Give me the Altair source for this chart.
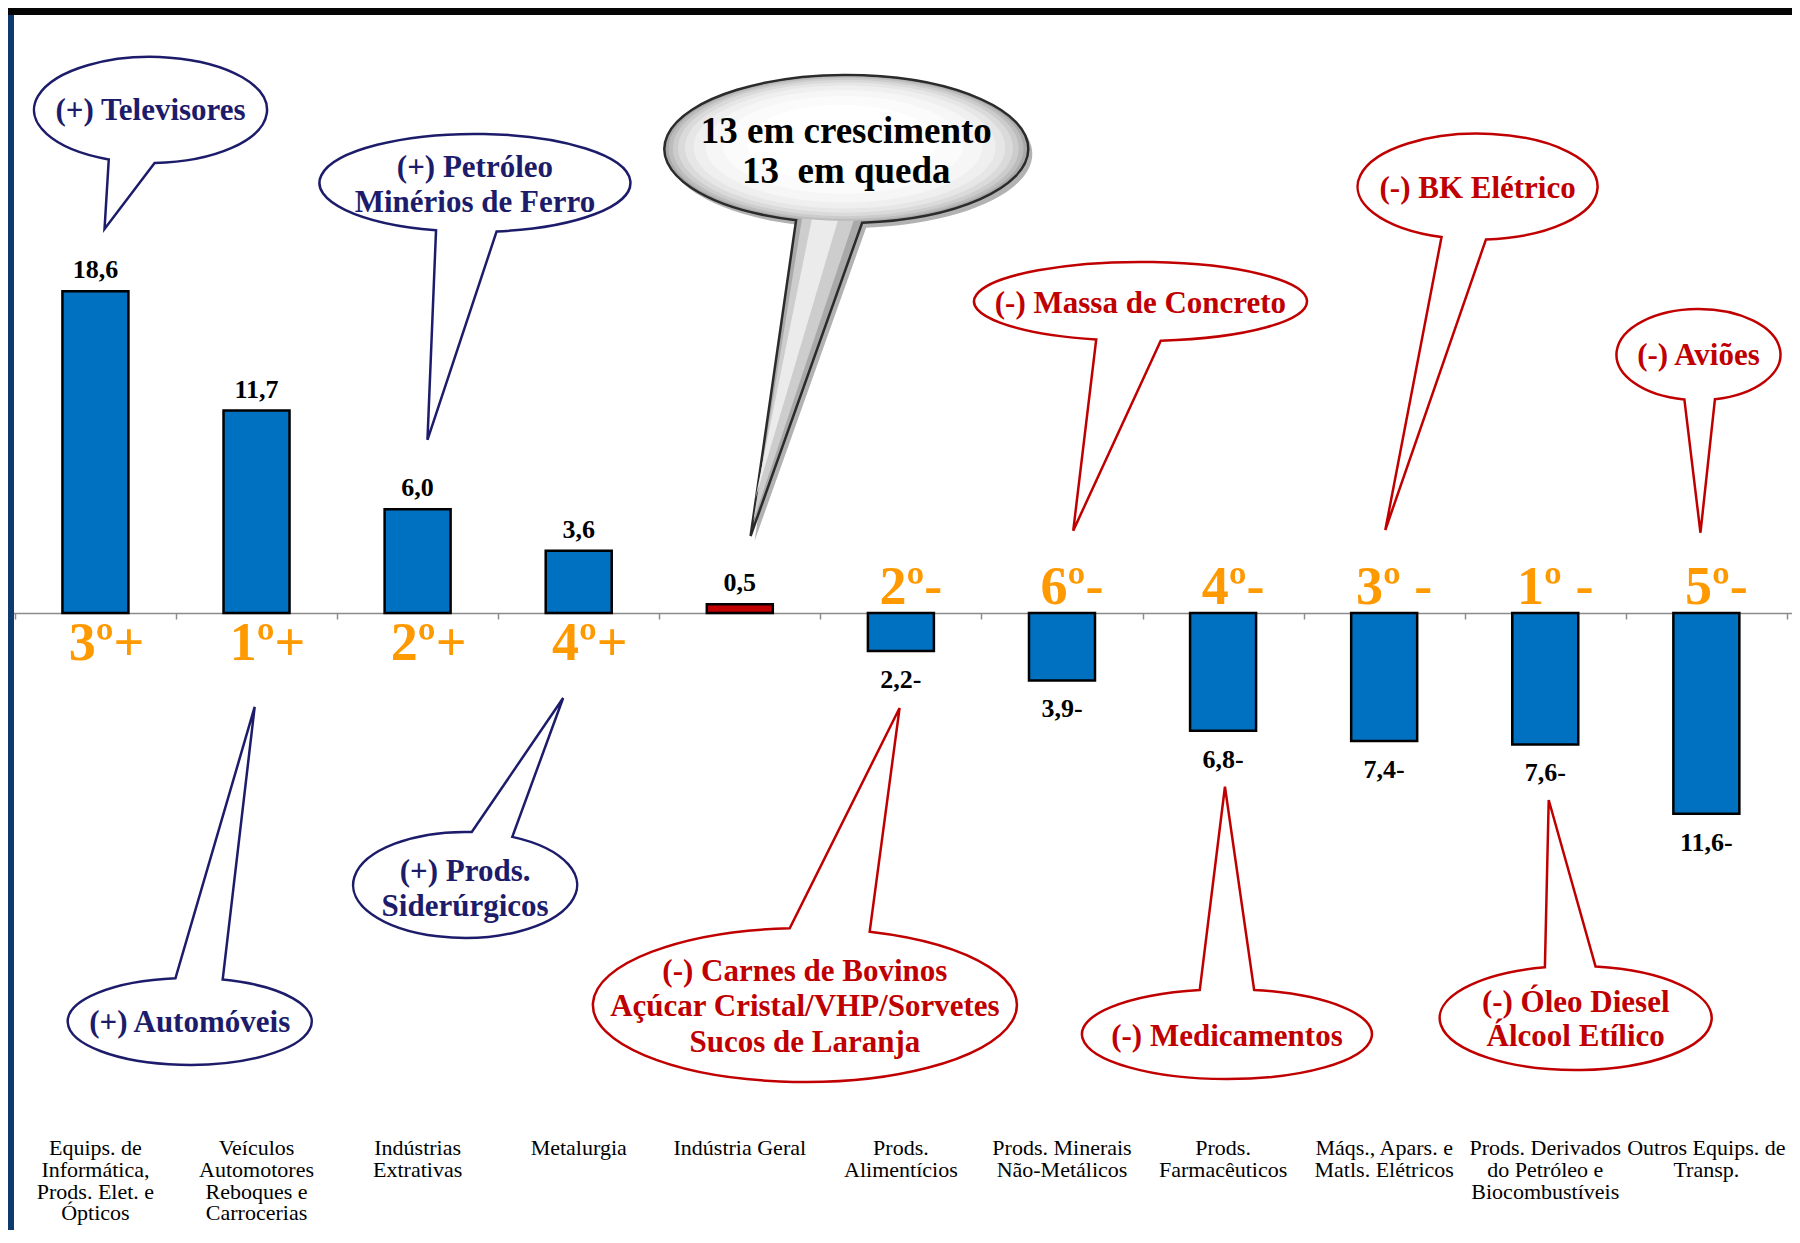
import math
import altair as alt
import pandas as pd

# ---------------- data ----------------
categories = [
    "Equips. de\nInformática,\nProds. Elet. e\nÓpticos",
    "Veículos\nAutomotores\nReboques e\nCarrocerias",
    "Indústrias\nExtrativas",
    "Metalurgia",
    "Indústria Geral",
    "Prods.\nAlimentícios",
    "Prods. Minerais\nNão-Metálicos",
    "Prods.\nFarmacêuticos",
    "Máqs., Apars. e\nMatls. Elétricos",
    "Prods. Derivados\ndo Petróleo e\nBiocombustíveis",
    "Outros Equips. de\nTransp.",
]
values = [18.6, 11.7, 6.0, 3.6, 0.5, -2.2, -3.9, -6.8, -7.4, -7.6, -11.6]
value_labels = ["18,6", "11,7", "6,0", "3,6", "0,5", "2,2-", "3,9-", "6,8-", "7,4-", "7,6-", "11,6-"]
ranks = ["3º+", "1º+", "2º+", "4º+", "", "2º-", "6º-", "4º-", "3º -", "1º -", "5º-"]
bar_colors = ["#0070C0"] * 4 + ["#C00000"] + ["#0070C0"] * 6

NAVY = "#1C1C6B"
RED = "#C00000"
ORANGE = "#FF9900"
FONT = "Liberation Serif"

# callouts: text lines, colour, anchor (category units, value units)
callout_lines = [
    ["(+) Televisores"],
    ["(+) Petróleo", "Minérios de Ferro"],
    ["(-) Massa de Concreto"],
    ["(-) BK Elétrico"],
    ["(-) Aviões"],
    ["(+) Automóveis"],
    ["(+) Prods.", "Siderúrgicos"],
    ["(-) Carnes de Bovinos", "Açúcar Cristal/VHP/Sorvetes", "Sucos de Laranja"],
    ["(-) Medicamentos"],
    ["(-) Óleo Diesel", "Álcool Etílico"],
]
callout_colors = [NAVY, NAVY, RED, RED, RED, NAVY, NAVY, RED, RED, RED]
callout_x = [0.342, 2.356, 6.487, 8.580, 9.951, 0.585, 2.295, 4.404, 7.024, 9.189]
callout_y = [29.08, 24.86, 18.01, 24.65, 14.94, -23.61, -15.72, -22.66, -24.34, -23.41]
# shape geometry in pixels: radii, tail gap angles, tail tip offset
callout_r = [(116.5, 53), (155.5, 49), (166.5, 39.5), (120, 53), (82, 45.6),
             (122, 43.5), (112, 53), (212, 77), (145, 45), (136, 52)]
callout_gap = [(88, 111), (82, 104.5), (83, 105.4), (86, 107.5), (78.4, 99.9),
               (263.3, 285.7), (273.4, 294.9), (265.9, 287.8), (259.2, 280.8), (256.9, 278.4)]
callout_tip = [(-46, 119), (-47.5, 257), (-67.2, 229.2), (-92.3, 343.5), (2, 178.2),
               (65, -314.5), (98, -187), (94.7, -297), (-2, -247.3), (-27, -218)]
callout_text_y = [[29.02], [25.72, 23.70], [17.86], [24.53], [14.87], [-23.70],
                  [-14.97, -16.99], [-20.73, -22.76, -24.84], [-24.49], [-22.53, -24.51]]

# central grey callout
summary_lines = ["13 em crescimento", "13\u00a0 em queda"]
summary_x, summary_y = 4.661, 26.82
summary_text_y = [27.82, 25.51]

# ---------------- layout ----------------
W, H = 1784, 1222
XDOM = [-0.5117, 10.5006]
YDOM = [-35.665, 34.971]
BASE_PX = 605

AX = alt.Axis(values=[i - 0.5 for i in range(12)], labels=False, ticks=True, tickSize=6,
              tickWidth=1.5, tickColor="#8c8c8c", domain=True, domainColor="#8c8c8c",
              domainWidth=1.5, grid=False, title=None, offset=BASE_PX - H)


def X(f):
    return alt.X(f"{f}:Q", scale=alt.Scale(domain=XDOM, nice=False, zero=False), axis=AX)


def Y(f):
    return alt.Y(f"{f}:Q", scale=alt.Scale(domain=YDOM, nice=False, zero=False), axis=None)


def bubble_path(rx, ry, gap, tip, ox=0.0, oy=0.0):
    a, b = math.radians(gap[0]), math.radians(gap[1])
    ax_, ay_ = ox + rx * math.cos(a), oy + ry * math.sin(a)
    bx_, by_ = ox + rx * math.cos(b), oy + ry * math.sin(b)
    return (f"M{bx_:.2f},{by_:.2f}A{rx:.2f},{ry:.2f} 0 1 1 {ax_:.2f},{ay_:.2f}"
            f"L{ox + tip[0]:.2f},{oy + tip[1]:.2f}Z")


def ellipse_path(rx, ry, ox=0.0, oy=0.0):
    return (f"M{ox - rx:.2f},{oy:.2f}A{rx:.2f},{ry:.2f} 0 1 1 {ox + rx:.2f},{oy:.2f}"
            f"A{rx:.2f},{ry:.2f} 0 1 1 {ox - rx:.2f},{oy:.2f}Z")


# ---------------- tables ----------------
df = pd.DataFrame({"cat": categories, "value": values, "label": value_labels,
                   "rank": ranks, "color": bar_colors})
df["idx"] = range(len(df))
df["zero"] = 0.0
pos = df[df.value >= 0]
neg = df[df.value < 0]

bdf = pd.DataFrame({
    "x": callout_x, "y": callout_y, "stroke": callout_colors,
    "path": [bubble_path(r[0], r[1], g, t) for r, g, t in zip(callout_r, callout_gap, callout_tip)],
})

trows = []
for lines, col, x, ys in zip(callout_lines, callout_colors, callout_x, callout_text_y):
    for ln, yy in zip(lines, ys):
        trows.append({"x": x, "y": yy, "text": ln, "color": col})
tdf = pd.DataFrame(trows)

s_rx, s_ry, s_gap, s_tip = 182, 74, (85, 106), (-95.7, 387)
gshadow = pd.DataFrame({"x": [summary_x], "y": [summary_y],
                        "path": [bubble_path(s_rx, s_ry, s_gap, s_tip, 4, 5)]})
gbase = pd.DataFrame({"x": [summary_x], "y": [summary_y],
                      "path": [bubble_path(s_rx, s_ry, s_gap, s_tip)]})
ghigh = pd.DataFrame({"x": [summary_x] * 2, "y": [summary_y] * 2,
                      "path": ["M-44,68L8,70L-93,372Z", "M-34,68L-8,70L-91,350Z"],
                      "fill": ["#cdcdcd", "#ebebeb"]})
scales = [0.975, 0.95, 0.92, 0.88, 0.83, 0.76, 0.66, 0.52]
shades = ["#bcbcbc", "#cccccc", "#dadada", "#e6e6e6", "#efefef", "#f6f6f6", "#fbfbfb", "#ffffff"]
gell = pd.DataFrame({"x": [summary_x] * len(scales), "y": [summary_y] * len(scales),
                     "path": [ellipse_path(s_rx * s, s_ry * s, -(1 - s) * 10, -(1 - s) * 12) for s in scales],
                     "fill": shades})
stdf = pd.DataFrame({"x": [summary_x] * 2, "y": summary_text_y, "text": summary_lines})

# ---------------- layers ----------------
bars = alt.Chart(df).mark_bar(size=66, stroke="black", strokeWidth=2.5).encode(
    x=X("idx"), y=Y("value"), y2=alt.Y2("zero"),
    color=alt.Color("color:N", scale=None))

vl_pos = alt.Chart(pos).mark_text(font=FONT, fontSize=26, fontWeight="bold", color="black",
                                  baseline="alphabetic", dy=-13).encode(
    x=X("idx"), y=Y("value"), text="label:N")
vl_neg = alt.Chart(neg).mark_text(font=FONT, fontSize=26, fontWeight="bold", color="black",
                                  baseline="alphabetic", dy=37).encode(
    x=X("idx"), y=Y("value"), text="label:N")

rk_pos = alt.Chart(pos).mark_text(font=FONT, fontSize=54, fontWeight="bold", color=ORANGE,
                                  baseline="alphabetic", dy=47, dx=11).encode(
    x=X("idx"), y=Y("zero"), text="rank:N")
rk_neg = alt.Chart(neg).mark_text(font=FONT, fontSize=54, fontWeight="bold", color=ORANGE,
                                  baseline="alphabetic", dy=-9, dx=10).encode(
    x=X("idx"), y=Y("zero"), text="rank:N")

cat_labels = alt.Chart(df).mark_text(font=FONT, fontSize=22, color="black", lineBreak="\n",
                                     baseline="top", lineHeight=21.8, align="center").encode(
    x=X("idx"), y=alt.value(1130), text="cat:N")

bubbles = alt.Chart(bdf).mark_point(filled=True, fill="white", opacity=1, fillOpacity=1,
                                    size=4, strokeWidth=2.5, strokeOpacity=1).encode(
    x=X("x"), y=Y("y"), shape=alt.Shape("path:N", scale=None),
    stroke=alt.Stroke("stroke:N", scale=None))

b_text = alt.Chart(tdf).mark_text(font=FONT, fontSize=31, fontWeight="bold",
                                  baseline="middle", align="center").encode(
    x=X("x"), y=Y("y"), text="text:N", color=alt.Color("color:N", scale=None))

g1 = alt.Chart(gshadow).mark_point(filled=True, fill="black", opacity=0.3, size=4, strokeWidth=0).encode(
    x=X("x"), y=Y("y"), shape=alt.Shape("path:N", scale=None))
g2 = alt.Chart(gbase).mark_point(filled=True, fill="#a9a9a9", opacity=1, size=4,
                                 stroke="#2b2b2b", strokeWidth=2.5).encode(
    x=X("x"), y=Y("y"), shape=alt.Shape("path:N", scale=None))
g3 = alt.Chart(ghigh).mark_point(filled=True, opacity=1, size=4, strokeWidth=0).encode(
    x=X("x"), y=Y("y"), shape=alt.Shape("path:N", scale=None),
    fill=alt.Fill("fill:N", scale=None))
g4 = alt.Chart(gell).mark_point(filled=True, opacity=1, size=4, strokeWidth=0).encode(
    x=X("x"), y=Y("y"), shape=alt.Shape("path:N", scale=None),
    fill=alt.Fill("fill:N", scale=None))
g_text = alt.Chart(stdf).mark_text(font=FONT, fontSize=37, fontWeight="bold", color="black",
                                   baseline="middle", align="center").encode(
    x=X("x"), y=Y("y"), text="text:N")

frame = pd.DataFrame({"k": [0]})
top_bar = alt.Chart(frame).mark_rect(color="#050505").encode(
    x=alt.value(0), x2=alt.value(W), y=alt.value(0), y2=alt.value(7))
left_bar = alt.Chart(frame).mark_rect(color="#0E3A6E").encode(
    x=alt.value(0), x2=alt.value(6), y=alt.value(7), y2=alt.value(H))

chart = alt.layer(
    bars, vl_pos, vl_neg, rk_pos, rk_neg, cat_labels,
    bubbles, b_text, g1, g2, g3, g4, g_text, top_bar, left_bar,
).properties(
    width=W, height=H, padding=0, autosize=alt.AutoSizeParams(type="none"),
    background="white",
).configure_view(stroke=None)

chart.save("out.html", embed_options={"renderer": "svg", "actions": False})
